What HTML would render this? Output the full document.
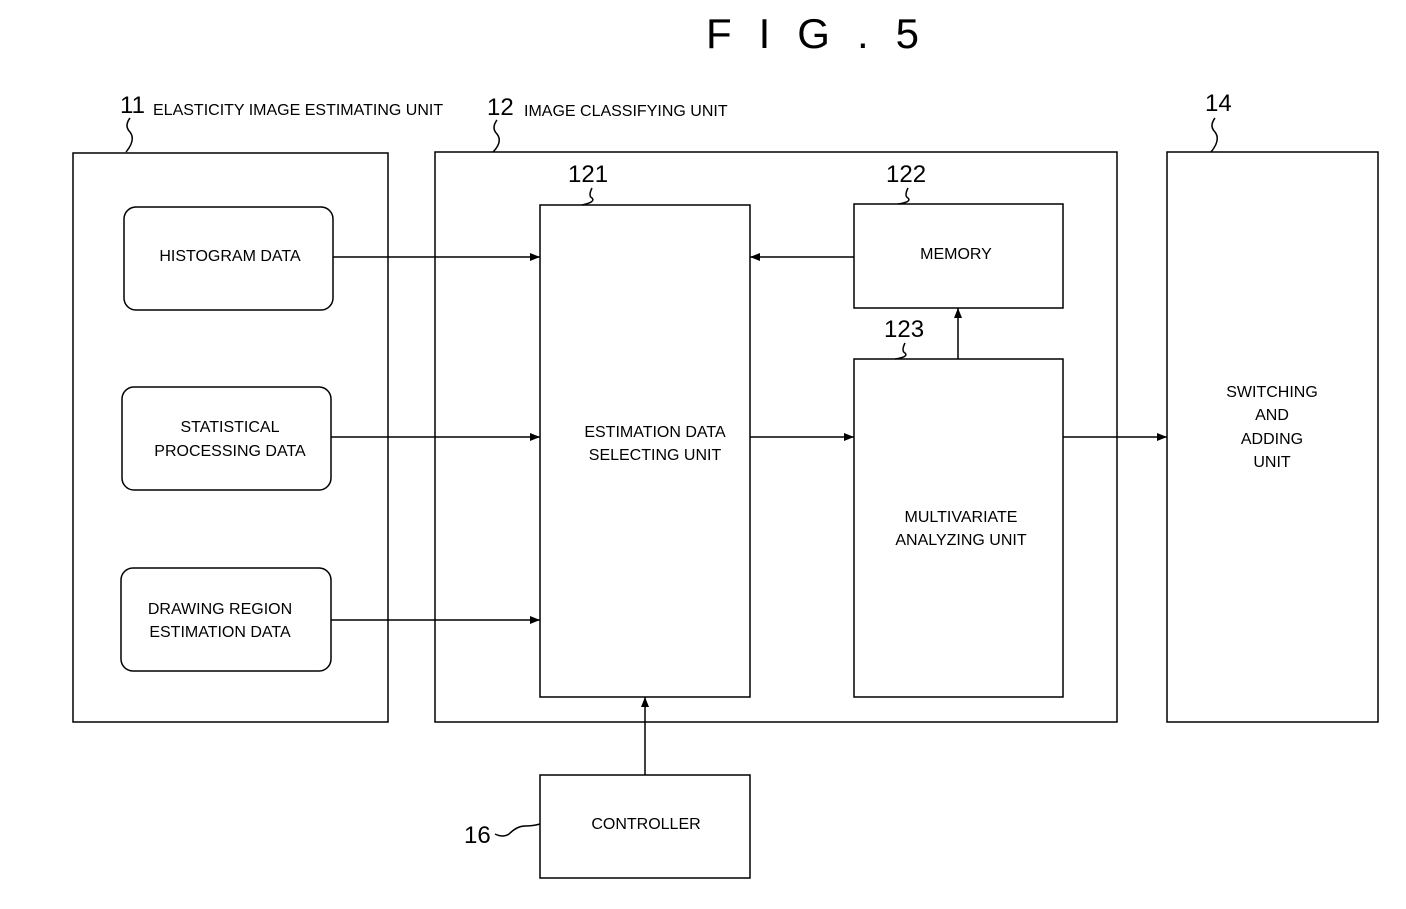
<!DOCTYPE html>
<html><head><meta charset="utf-8"><style>
html,body{margin:0;padding:0;background:#fff;}
svg{display:block;}
text{font-family:"Liberation Sans",sans-serif;fill:#000;}
.s{font-size:16px;}
.n{font-size:24px;}
</style></head><body>
<svg width="1406" height="909" viewBox="0 0 1406 909" xmlns="http://www.w3.org/2000/svg">
<defs><marker id="a" markerWidth="10" markerHeight="8" refX="10" refY="4" orient="auto" markerUnits="userSpaceOnUse"><path d="M0,0 L10,4 L0,8 z" fill="#000"/></marker></defs>
<text x="826" y="48" font-size="42" text-anchor="middle" letter-spacing="27">FIG.5</text>
<g fill="none" stroke="#000" stroke-width="1.5">
<rect x="73" y="153" width="315" height="569"/>
<rect x="435" y="152" width="682" height="570"/>
<rect x="1167" y="152" width="211" height="570"/>
<rect x="124" y="207" width="209" height="103" rx="12"/>
<rect x="122" y="387" width="209" height="103" rx="12"/>
<rect x="121" y="568" width="210" height="103" rx="12"/>
<rect x="540" y="205" width="210" height="492"/>
<rect x="854" y="204" width="209" height="104"/>
<rect x="854" y="359" width="209" height="338"/>
<rect x="540" y="775" width="210" height="103"/>
<g marker-end="url(#a)">
<line x1="333" y1="257" x2="540" y2="257"/>
<line x1="331" y1="437" x2="540" y2="437"/>
<line x1="331" y1="620" x2="540" y2="620"/>
<line x1="854" y1="257" x2="750" y2="257"/>
<line x1="750" y1="437" x2="854" y2="437"/>
<line x1="1063" y1="437" x2="1167" y2="437"/>
<line x1="958" y1="359" x2="958" y2="308"/>
<line x1="645" y1="775" x2="645" y2="697"/>
</g>
<path d="M130,118 q-6,8 0,14 q6,8 -4,20"/>
<path d="M497,120 q-6,8 0,14 q6,8 -4,18"/>
<path d="M1215,118 q-6,8 0,14 q6,8 -4,20"/>
<path d="M592,188 q-4,8 0,10 q4,4 -10,7"/>
<path d="M908,188 q-4,8 0,10 q4,4 -10,6"/>
<path d="M905,343 q-4,8 0,10 q4,4 -10,6"/>
<path d="M495,834 q8,4 14,0 q8,-8 16,-8 q8,0 15,-2"/>
</g>
<text class="n" x="120" y="113">11</text>
<text class="s" x="153" y="115">ELASTICITY IMAGE ESTIMATING UNIT</text>
<text class="n" x="487" y="115">12</text>
<text class="s" x="524" y="116">IMAGE CLASSIFYING UNIT</text>
<text class="n" x="1205" y="111">14</text>
<text class="n" x="568" y="182">121</text>
<text class="n" x="886" y="182">122</text>
<text class="n" x="884" y="337">123</text>
<text class="n" x="464" y="843">16</text>
<g class="s" text-anchor="middle">
<text x="230" y="261" class="s">HISTOGRAM DATA</text>
<text x="230" y="432" class="s">STATISTICAL</text>
<text x="230" y="456" class="s">PROCESSING DATA</text>
<text x="220" y="614" class="s">DRAWING REGION</text>
<text x="220" y="637" class="s">ESTIMATION DATA</text>
<text x="655" y="437" class="s">ESTIMATION DATA</text>
<text x="655" y="460" class="s">SELECTING UNIT</text>
<text x="956" y="259" class="s">MEMORY</text>
<text x="961" y="522" class="s">MULTIVARIATE</text>
<text x="961" y="545" class="s">ANALYZING UNIT</text>
<text x="1272" y="397" class="s">SWITCHING</text>
<text x="1272" y="420" class="s">AND</text>
<text x="1272" y="444" class="s">ADDING</text>
<text x="1272" y="467" class="s">UNIT</text>
<text x="646" y="829" class="s">CONTROLLER</text>
</g>
</svg>
</body></html>
